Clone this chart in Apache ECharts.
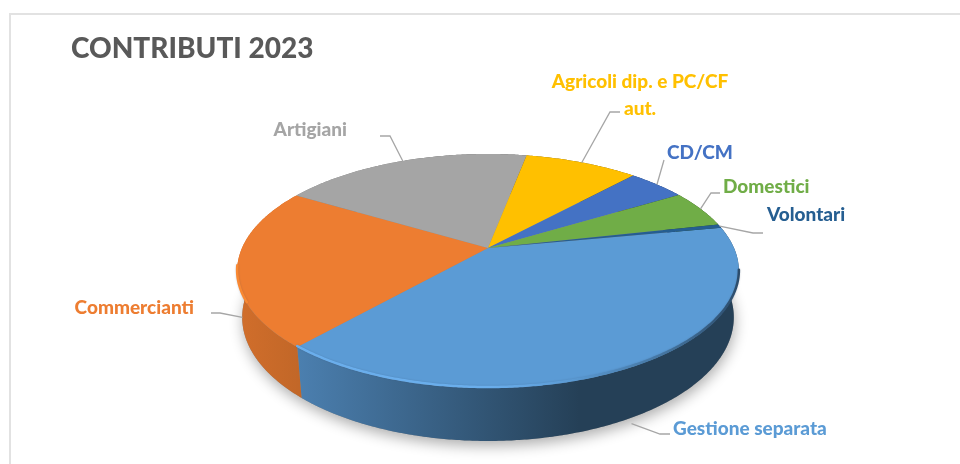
<!DOCTYPE html>
<html>
<head>
<meta charset="utf-8">
<title>Contributi 2023</title>
<style>
  html, body { margin: 0; padding: 0; background: #fff; }
  #chart { width: 960px; height: 464px; }
</style>
<script src="https://cdn.jsdelivr.net/npm/echarts@6/dist/echarts.min.js"></script>
</head>
<body>
<div id="chart"></div>
<script>
// dati (quote in %)
var sliceNames = ['Gestione separata', 'Commercianti', 'Artigiani', 'Agricoli dip. e PC/CF\naut.', 'CD/CM', 'Domestici', 'Volontari'];
var sliceValues = [39.5, 22.1, 19.4, 8.8, 4.5, 5.2, 0.5];
var sliceColors = ['#5b9bd5', '#ed7d31', '#a5a5a5', '#ffc000', '#4472c4', '#70ad47', '#255e91'];
var rimColors = ['#6aaeec', '#f98832'];

var total = sliceValues.reduce(function (a, b) { return a + b; }, 0);
var startDeg = 79.2; // la prima fetta parte da qui, senso orario dalle 12

// proiezione del disco in prospettiva
var cam = { cx: 488, cy: 248, r: 246, ry: 112.5, p: 0.1965, drop: 46.4, recede: 0.02 };

function rimPoint(deg, bottom) {
    var t = deg * Math.PI / 180;
    var u = Math.sin(t), v = -Math.cos(t);
    var s = 1 / (1 - cam.p * v + (bottom ? cam.recede : 0));
    return [cam.cx + cam.r * u * s, cam.cy + (cam.ry * v + (bottom ? cam.drop : 0)) * s];
}

function rimPath(a0, a1, bottom) {
    var pts = [];
    var n = Math.max(2, Math.ceil(Math.abs(a1 - a0) * 2));
    for (var i = 0; i <= n; i++) {
        pts.push(rimPoint(a0 + (a1 - a0) * i / n, bottom));
    }
    return pts;
}

function sliceRange(idx) {
    var before = 0;
    for (var i = 0; i < idx; i++) before += sliceValues[i];
    return [startDeg + before / total * 360, startDeg + (before + sliceValues[idx]) / total * 360];
}

function shade(color, k) {
    var c = echarts.color.parse(color);
    return 'rgb(' + Math.round(c[0] * k) + ',' + Math.round(c[1] * k) + ',' + Math.round(c[2] * k) + ')';
}

// parete laterale: scurisce verso destra
function wallFill(color) {
    return new echarts.graphic.LinearGradient(238, 0, 740, 0, [
        { offset: 0, color: shade(color, 0.88) },
        { offset: 0.12, color: shade(color, 0.82) },
        { offset: 0.5, color: shade(color, 0.54) },
        { offset: 0.68, color: shade(color, 0.41) },
        { offset: 1, color: shade(color, 0.41) }
    ], true);
}

function renderBase(params, api) {
    return {
        type: 'polygon',
        shape: { points: rimPath(0, 360, true) },
        style: { fill: '#8a8a8a', shadowColor: 'rgba(0,0,0,0.32)', shadowBlur: 14, shadowOffsetY: 5, shadowOffsetX: 1 },
        silent: true
    };
}

function renderWall(params, api) {
    var r = sliceRange(params.dataIndex);
    return {
        type: 'polygon',
        shape: { points: rimPath(r[0], r[1], false).concat(rimPath(r[1], r[0], true)) },
        style: { fill: wallFill(sliceColors[params.dataIndex]) }
    };
}

function renderTop(params, api) {
    var r = sliceRange(params.dataIndex);
    return {
        type: 'polygon',
        shape: { points: [[cam.cx, cam.cy]].concat(rimPath(r[0], r[1], false)) },
        style: { fill: sliceColors[params.dataIndex] }
    };
}

// bordo chiaro sul davanti, sfuma scuro a destra
function renderRim(params, api) {
    var i = params.dataIndex;
    if (i > 1) return null;
    var r = sliceRange(i);
    var c = sliceColors[i];
    var stroke = new echarts.graphic.LinearGradient(238, 0, 740, 0, [
        { offset: 0, color: rimColors[i] },
        { offset: 0.5, color: rimColors[i] },
        { offset: 0.66, color: c },
        { offset: 0.85, color: '#44749f' },
        { offset: 1, color: '#2c4c6b' }
    ], true);
    return {
        type: 'polyline',
        shape: { points: rimPath(r[0] + 22, r[1] - (i ? 40 : 0), false).map(function (p) { return [p[0], p[1] - 1]; }) },
        style: { stroke: stroke, lineWidth: 2.5, fill: null, lineCap: 'round', shadowColor: 'rgba(40,60,90,0.25)', shadowBlur: 2 }
    };
}

// posizione etichette e linee guida (non sono dati)
var labelLayout = [
    { onWall: true, drop: 6, elbow: [660, 434], end: [670, 434], x: 673, y: 429, align: 'left' },
    { onWall: true, drop: 5, elbow: [220, 313], end: [211, 313], x: 194, y: 308, align: 'right' },
    { elbow: [390, 136], end: [380, 136], x: 347, y: 130, align: 'right' },
    { elbow: [610, 112], end: [620, 112], x: 640, y: 95, align: 'center' },
    { elbow: [664, 160], end: [664, 160], x: 667, y: 153, align: 'left' },
    { elbow: [711, 193], end: [720, 193], x: 723, y: 187, align: 'left' },
    { elbow: [753, 233], end: [763, 233], x: 767, y: 215, align: 'left' }
];

function renderLabel(params, api) {
    var i = params.dataIndex;
    var l = labelLayout[i];
    var r = sliceRange(i);
    var a = rimPoint((r[0] + r[1]) / 2, !!l.onWall);
    if (l.onWall) a = [a[0], a[1] + l.drop];
    return {
        type: 'group',
        children: [{
            type: 'polyline',
            shape: { points: [a, l.elbow, l.end] },
            style: { stroke: '#a6a6a6', lineWidth: 1.3, fill: null }
        }, {
            type: 'text',
            style: {
                text: sliceNames[i],
                x: l.x,
                y: l.y,
                fill: sliceColors[i],
                align: l.align,
                verticalAlign: 'middle',
                font: '900 19px Lato',
                lineHeight: 27
            }
        }]
    };
}

function pieSeries(render) {
    return {
        type: 'custom',
        coordinateSystem: 'none',
        renderItem: render,
        animation: false,
        silent: true,
        data: sliceValues.map(function (v, i) { return { name: sliceNames[i], value: v }; })
    };
}

var myChart = echarts.init(document.getElementById('chart'), null, { renderer: 'canvas' });
myChart.setOption({
    backgroundColor: '#fff',
    animation: false,
    title: {
        text: 'CONTRIBUTI 2023',
        left: 71,
        top: 35,
        padding: 0,
        textStyle: { fontFamily: 'Lato', fontWeight: 900, fontSize: 28, color: '#595959' }
    },
    graphic: [{
        type: 'rect',
        shape: { x: 10, y: 14, width: 960, height: 470 },
        style: { fill: null, stroke: '#e2e2e2', lineWidth: 2 },
        silent: true
    }],
    series: [pieSeries(function (p, api) { return p.dataIndex === 0 ? renderBase(p, api) : null; }), pieSeries(renderWall), pieSeries(renderTop), pieSeries(renderRim), pieSeries(renderLabel)]
});
</script>
</body>
</html>
